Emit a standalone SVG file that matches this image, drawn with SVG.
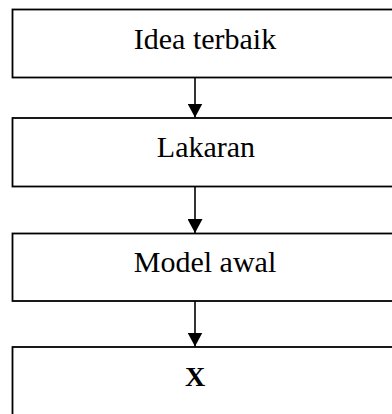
<svg xmlns="http://www.w3.org/2000/svg" width="392" height="414" viewBox="0 0 392 414">
<defs>
<style>
.box{fill:#fff;stroke:#000;stroke-width:1.8}
.lbl{font-family:"Liberation Serif","Times New Roman",serif;font-size:30px;fill:#000;text-anchor:middle}
.bold{font-weight:bold;font-size:28px}
.conn line{stroke:#000;stroke-width:1.6}
</style>
<marker id="ah" markerWidth="14" markerHeight="15" refX="14" refY="7.5" orient="auto" markerUnits="userSpaceOnUse" viewBox="0 0 14 15">
<path d="M0,0 L14,7.5 L0,15 Z" fill="#000"/>
</marker>
</defs>
<rect width="392" height="414" fill="#fff"/>
<g id="n1"><rect class="box" x="12.5" y="9.5" width="400" height="68"/><text class="lbl" x="205" y="49">Idea terbaik</text></g>
<g id="n2"><rect class="box" x="12.5" y="118" width="400" height="68.5"/><text class="lbl" x="206" y="157">Lakaran</text></g>
<g id="n3"><rect class="box" x="12.5" y="233.5" width="400" height="67.5"/><text class="lbl" x="205" y="272">Model awal</text></g>
<g id="n4"><rect class="box" x="12.5" y="347" width="400" height="100"/><text class="lbl bold" x="195" y="386">X</text></g>
<g class="conn" id="connectors">
<line x1="195" y1="77.5" x2="195" y2="117.5" marker-end="url(#ah)"/>
<line x1="195" y1="186.5" x2="195" y2="233" marker-end="url(#ah)"/>
<line x1="195" y1="301" x2="195" y2="346.5" marker-end="url(#ah)"/>
</g>
</svg>
